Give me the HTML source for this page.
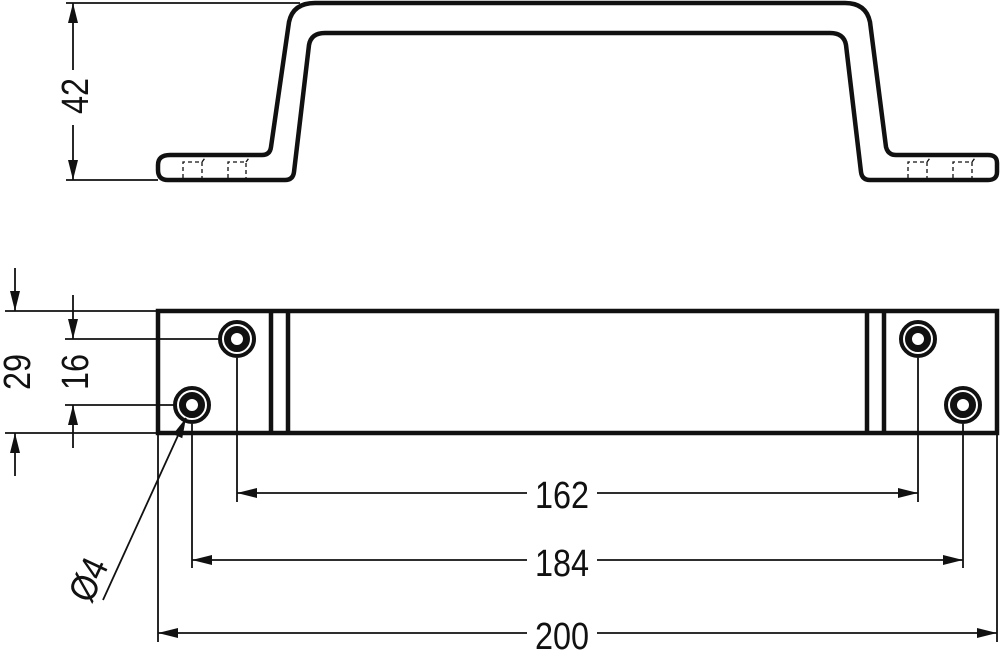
<!DOCTYPE html>
<html><head><style>body{margin:0;background:#fff}svg{display:block}</style></head><body>
<svg width="1000" height="652" viewBox="0 0 1000 652" xmlns="http://www.w3.org/2000/svg" font-family="Liberation Sans, sans-serif">
<defs>
<marker id="a" viewBox="0 0 20 10" refX="20" refY="5" markerWidth="20" markerHeight="10" markerUnits="userSpaceOnUse" orient="auto-start-reverse"><path d="M0,0L20,5L0,10z" fill="#111"/></marker>
</defs>
<g fill="none" stroke="#111">
<path stroke-width="4.5" d="M170,155 L262,155 Q270,155 271,147 L289,22 Q293,3 315,3 L845,3 Q866,3 870,22 L886,147 Q888,155 896,155 L988,155 Q997,155 997,163 L997,172 Q997,180 988,180 L870,180 Q862,180 861,172 L846,45 Q844,33 830,33 L325,33 Q311,33 309,45 L294,172 Q293,180 285,180 L168,180 Q158,180 158,170 L158,165 Q158,155 170,155 Z"/>
<g stroke-width="1.3" stroke-dasharray="4,3">
<path d="M183,178V162H202V178M202,162L205,158"/><path d="M228,178V162H246V178M246,162L249,158"/>
<path d="M908,178V162H927V178M927,162L930,158"/><path d="M953,178V162H972V178M972,162L975,158"/>
</g>
<rect x="158" y="311" width="839" height="122" stroke-width="4.5"/>
<path stroke-width="4.5" d="M271,311V433M288,311V433M867,311V433M884,311V433"/>
<g stroke-width="4"><circle cx="237" cy="339" r="17"/><circle cx="192" cy="405" r="17"/><circle cx="918" cy="339" r="17"/><circle cx="963" cy="405" r="17"/></g>
<g stroke-width="7"><circle cx="237" cy="339" r="9.5"/><circle cx="192" cy="405" r="9.5"/><circle cx="918" cy="339" r="9.5"/><circle cx="963" cy="405" r="9.5"/></g>
<g stroke-width="1.8">
<path d="M66,3H300M66,180H158"/>
<path d="M73,3V180" marker-start="url(#a)" marker-end="url(#a)"/>
<path d="M5,311H158M5,433H158M65,339H220M65,405H175"/>
<path d="M15,268V311" marker-end="url(#a)"/><path d="M15,476V433" marker-end="url(#a)"/>
<path d="M73,295V339" marker-end="url(#a)"/><path d="M73,448V405" marker-end="url(#a)"/>
<path d="M237,358V502M918,358V502M192,424V568M963,424V568M158,435V642M997,435V642"/>
<path d="M237,493H918" marker-start="url(#a)" marker-end="url(#a)"/>
<path d="M192,560H963" marker-start="url(#a)" marker-end="url(#a)"/>
<path d="M158,633H997" marker-start="url(#a)" marker-end="url(#a)"/>
<path d="M103,600L186,418" marker-end="url(#a)"/>
</g>
</g>
<g font-size="36" fill="#111" text-anchor="middle">
<rect x="60" y="70" width="30" height="55" fill="#fff"/>
<text transform="translate(88,96) rotate(-90) scale(0.9,1.05)">42</text>
<text transform="translate(30,372) rotate(-90) scale(0.9,1.05)">29</text>
<text transform="translate(88,372) rotate(-90) scale(0.9,1.05)">16</text>
<rect x="527" y="476" width="70" height="34" fill="#fff"/><text transform="translate(562,508) scale(0.9,1.05)">162</text>
<rect x="527" y="543" width="70" height="34" fill="#fff"/><text transform="translate(562,576) scale(0.9,1.05)">184</text>
<rect x="527" y="616" width="70" height="34" fill="#fff"/><text transform="translate(562,649) scale(0.9,1.05)">200</text>
<text transform="translate(100,585) rotate(-65) scale(0.9,1.05)">Ø4</text>
</g>
</svg>
</body></html>
